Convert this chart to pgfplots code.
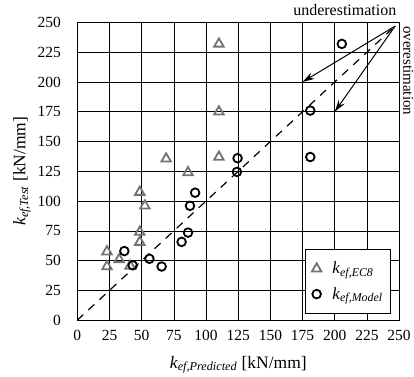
\documentclass[border=0pt]{standalone}
\usepackage{fontspec}
\setmainfont{Liberation Serif}
\usepackage{pgfplots}
\pgfplotsset{compat=1.18}
\usetikzlibrary{arrows.meta}
\definecolor{trigray}{RGB}{115,115,115}
\begin{document}
\begin{tikzpicture}
\begin{axis}[
 width=321bp, height=297bp, scale only axis,
 xmin=0, xmax=250, ymin=0, ymax=250,
 xtick={0,25,...,250}, ytick={0,25,...,250},
 grid=major, grid style={black, line width=0.6pt},
 axis line style={black, line width=0.9pt},
 major tick length=0pt,
 /pgf/number format/assume math mode=true,
 ticklabel style={font=\fontsize{15.5}{16}\selectfont},
 xticklabel style={yshift=-7bp},
 yticklabel style={xshift=-13bp},
 xlabel={\textit{k}\textsubscript{\textit{ef,Predicted}} [kN/mm]},
 ylabel={\textit{k}\textsubscript{\textit{ef,Test}} [kN/mm]},
 label style={font=\fontsize{17.5}{18}\selectfont},
 xlabel style={yshift=-8bp},
 ylabel style={yshift=0bp},
 legend style={at={(0.975,0.02)}, anchor=south east, draw=black, line width=0.8pt,
   font=\fontsize{17}{18}\selectfont, row sep=8bp, inner xsep=6bp, inner ysep=11bp,
   /tikz/every odd column/.append style={column sep=9bp}},
 legend cell align=left,
 clip=false,
]
\addplot[black, dashed, line width=1.2pt, dash pattern=on 8bp off 7bp, forget plot] coordinates {(0,0) (246,246)};
\addplot[only marks, mark=triangle, mark size=5.5bp, trigray, mark options={line width=1.8pt}] coordinates {
(110,232) (110,175) (110,137) (69,135.5) (86,124) (48.5,107.5) (52.5,96) (48.5,74) (48.5,65.5)
(23,57.5) (23,45) (32.5,51) (41,45.5)
};
\addlegendentry{\textit{k}\textsubscript{\textit{ef,EC8}}}
\addplot[only marks, mark=o, mark size=4.3bp, black, mark options={line width=1.8pt}] coordinates {
(205.5,232) (181,176) (181,137) (124.5,136) (124,124.5) (91.5,107) (87.5,96) (86,73.5) (81,65.7)
(36.5,58) (43,46) (56,51.5) (65.5,45)
};
\addlegendentry{\textit{k}\textsubscript{\textit{ef,Model}}}
\draw[-{Stealth[length=12bp,width=7bp]}, line width=1pt] (axis cs:247,247) -- (axis cs:175,200);
\draw[-{Stealth[length=12bp,width=7bp]}, line width=1pt] (axis cs:247,247) -- (axis cs:200,175);
\node[anchor=south east, font=\fontsize{16}{16}\selectfont, inner sep=0pt] at ([yshift=7bp]axis cs:248,250) {underestimation};
\node[anchor=south west, rotate=-90, font=\fontsize{15}{16}\selectfont, inner sep=0pt] at ([xshift=4bp]axis cs:250,247) {overestimation};
\end{axis}
\path ([xshift=-10bp]current bounding box.west);
\path ([yshift=4bp]current bounding box.north);
\end{tikzpicture}
\end{document}
